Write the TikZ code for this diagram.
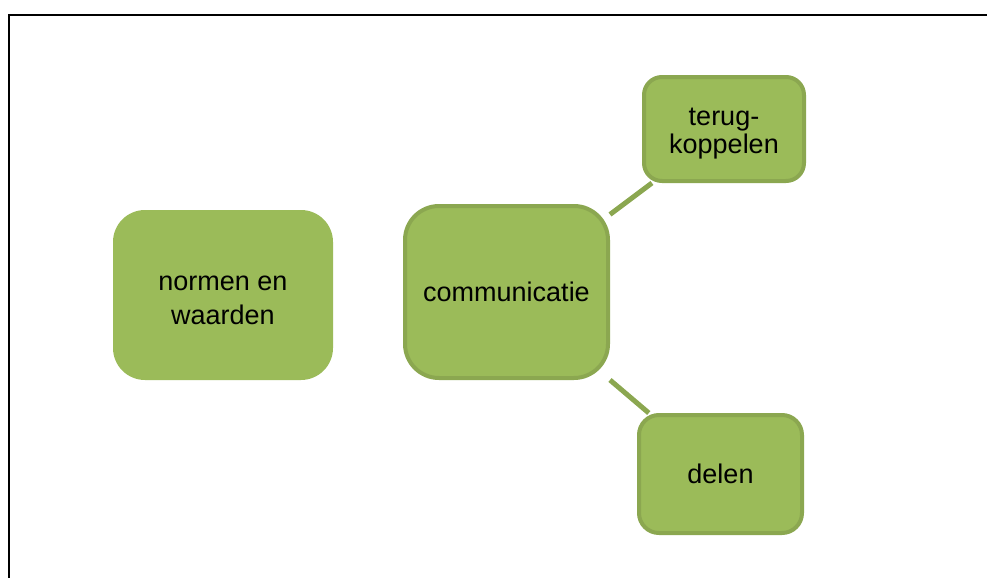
\documentclass[tikz,border=0pt]{standalone}
\usepackage{fontspec}
\setmainfont{Liberation Sans}
\definecolor{boxfill}{HTML}{9BBB59}
\definecolor{boxline}{HTML}{8BA750}
\begin{document}
\begin{tikzpicture}[x=0.5pt,y=-0.5pt,
  box/.style={rectangle,fill=boxfill,inner sep=0pt,align=center,
    font=\fontsize{13.5pt}{13.5pt}\selectfont},
  bordered/.style={box,draw=boxline,line width=2pt},
  link/.style={draw=boxline,line width=2.5pt}]
\useasboundingbox (0,0) rectangle (987,578);
\draw[line width=1.25pt] (987,15) -- (9,15) -- (9,578);
\node[box,rounded corners=16pt,minimum width=110pt,minimum height=85pt,
  text height=29pt,text depth=0pt,
  font=\fontsize{13.5pt}{17pt}\selectfont] (normen) at (223,295) {normen en\\waarden};
\node[bordered,rounded corners=17pt,minimum width=101.5pt,minimum height=86pt] (comm) at (506.5,292) {communicatie};
\node[bordered,rounded corners=9pt,minimum width=80pt,minimum height=52pt,
  text height=24pt,text depth=0pt] (terug) at (724,129) {terug-\\koppelen};
\node[bordered,rounded corners=10pt,minimum width=81.5pt,minimum height=59pt] (delen) at (720.5,474) {delen};
\draw[link] (comm) -- (terug);
\draw[link] (comm) -- (delen);
\end{tikzpicture}
\end{document}
